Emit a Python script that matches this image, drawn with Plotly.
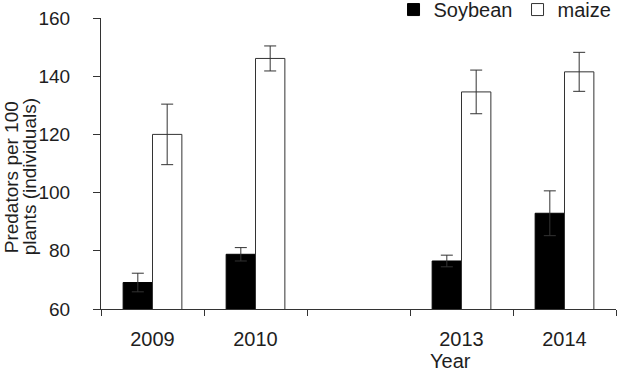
import plotly.graph_objects as go

years = ["2009", "2010", " ", "2013", "2014"]
soybean = [69.1, 78.8, None, 76.5, 92.9]
soybean_err = [3.2, 2.3, None, 2.0, 7.7]
maize = [120.0, 146.1, None, 134.6, 141.5]
maize_err = [10.4, 4.3, None, 7.5, 6.7]

FONT = "Liberation Sans, Arial, sans-serif"
TXT = "#1e1e1e"
AX = "#333333"

fig = go.Figure()
fig.add_trace(go.Bar(
    x=years, y=soybean, name="Soybean",
    marker=dict(color="black", line=dict(color="black", width=1)),
    error_y=dict(type="data", array=soybean_err, color=AX, thickness=1, width=6),
))
fig.add_trace(go.Bar(
    x=years, y=maize, name="maize",
    marker=dict(color="white", line=dict(color=AX, width=1)),
    error_y=dict(type="data", array=maize_err, color=AX, thickness=1, width=6),
))

fig.update_layout(
    width=617, height=371,
    margin=dict(l=101, r=1, t=18, b=62, autoexpand=False),
    paper_bgcolor="white", plot_bgcolor="white",
    barmode="group", bargap=0.43, bargroupgap=0,
    font=dict(family=FONT, size=19, color=TXT),
    showlegend=True,
    legend=dict(orientation="h", x=0.568, xanchor="left", y=1.029, yanchor="middle",
                bgcolor="rgba(0,0,0,0)", font=dict(size=20, color=TXT),
                traceorder="normal", itemwidth=30, entrywidth=79,
                entrywidthmode="pixels", borderwidth=0),
    xaxis=dict(
        type="category", categoryorder="array", categoryarray=years,
        showline=True, linecolor=AX, linewidth=1,
        ticks="outside", tickson="boundaries", ticklen=6, tickcolor=AX,
        showgrid=False, zeroline=False, ticklabelstandoff=12,
        tickfont=dict(size=20, color=TXT),
    ),
    yaxis=dict(
        range=[60, 160], tickvals=[60, 80, 100, 120, 140, 160],
        showline=True, linecolor=AX, linewidth=1,
        ticks="outside", ticklen=7, tickcolor=AX,
        showgrid=False, zeroline=False, ticklabelstandoff=19,
        tickfont=dict(size=19, color=TXT),
    ),
    annotations=[
        dict(text="Year", xref="paper", yref="paper", x=0.678, y=-0.177,
             xanchor="center", yanchor="middle", showarrow=False,
             font=dict(size=20, color=TXT)),
        dict(text="Predators per 100", xref="paper", yref="paper", x=-0.174, y=0.454,
             xanchor="center", yanchor="middle", textangle=-90, showarrow=False,
             font=dict(size=19, color=TXT)),
        dict(text="plants (individuals)", xref="paper", yref="paper", x=-0.139, y=0.454,
             xanchor="center", yanchor="middle", textangle=-90, showarrow=False,
             font=dict(size=19, color=TXT)),
    ],
)

fig.write_html("out.html", config={"displayModeBar": False},
               post_script="document.body.style.margin='0';")
